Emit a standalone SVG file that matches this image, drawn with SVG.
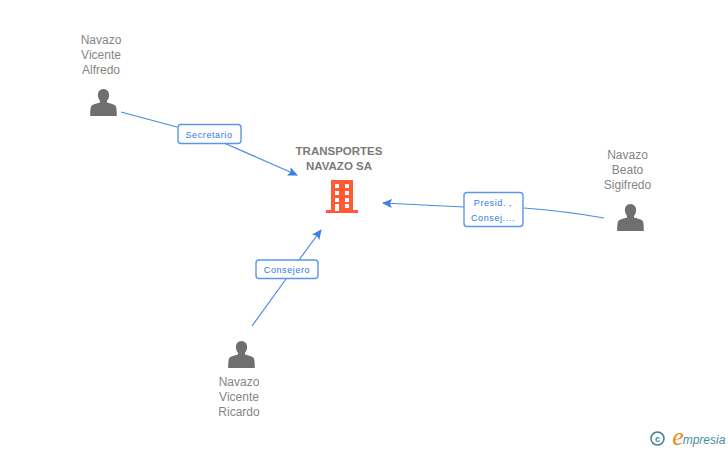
<svg xmlns="http://www.w3.org/2000/svg" width="728" height="450" viewBox="0 0 728 450">
<style>
text{font-family:"Liberation Sans",Arial,sans-serif;text-anchor:middle}
.n{font-size:12px;fill:#858585}
.t{font-size:11.500px;font-weight:bold;fill:#7a7a7a}
.l{font-size:9px;fill:#2f78e4;letter-spacing:.6px}
.c{fill:none;stroke:#4a8ae6;stroke-width:1.2}
.b{fill:#fff;stroke:#5a96ea;stroke-width:1.4}
.p{fill:#6f6f6f}
</style>
<defs>
<marker id="a" markerWidth="11" markerHeight="10" refX="9" refY="4.500" orient="auto" markerUnits="userSpaceOnUse"><path d="M0 0L10 4.500L0 9L2 4.500Z" fill="#3b7fe0"/></marker>
<path id="u" d="M0-14C-3.800-14-5.800-11-5.600-7.500C-5.400-5-4.400-3.200-3.500-2.200V-.5C-5.500 0-10 1-12 2.700C-13 3.700-13.300 8-13.300 13H13.300C13.300 8 13 3.700 12 2.700C10 1 5.500 0 3.500-.5V-2.200C4.400-3.200 5.400-5 5.600-7.500C5.800-11 3.800-14 0-14Z"/>
</defs>
<g id="connectors">
<path class="c" d="M121 112L177 127M224 143L297 175" marker-end="url(#a)"/>
<path class="c" d="M604 218Q565 211 524 208M464 207Q425 205 383 203" marker-end="url(#a)"/>
<path class="c" d="M252 326L286 279M299 260L321 230" marker-end="url(#a)"/>
</g>
<g id="edge-secretario"><rect class="b" x="178" y="124.500" width="63" height="19" rx="3"/><text class="l" x="209" y="137.500">Secretario</text></g>
<g id="edge-presid"><rect class="b" x="464" y="192.500" width="59" height="34" rx="3"/><text class="l" x="493" y="205.500">Presid. ,</text><text class="l" x="493" y="220.500">Consej....</text></g>
<g id="edge-consejero"><rect class="b" x="256" y="260" width="62" height="18.500" rx="3"/><text class="l" x="287" y="273">Consejero</text></g>
<g id="node-company">
<text class="t" x="339" y="155">TRANSPORTES</text><text class="t" x="339" y="170">NAVAZO SA</text>
<path fill="#ff5a33" fill-rule="evenodd" d="M331 180H353V210H358V213H326V210H331ZM335 184V188H339V184ZM345 184V188H349V184ZM335 191V195H339V191ZM345 191V195H349V191ZM335 198V202H339V198ZM345 198V202H349V198ZM335 204V211H339V204ZM345 204V208H349V204Z"/>
</g>
<g id="node-alfredo"><text class="n" x="101" y="44">Navazo</text><text class="n" x="101" y="59">Vicente</text><text class="n" x="101" y="74">Alfredo</text><use href="#u" class="p" x="103.500" y="103"/></g>
<g id="node-beato"><text class="n" x="627.500" y="159">Navazo</text><text class="n" x="627.500" y="174">Beato</text><text class="n" x="627.500" y="189">Sigifredo</text><use href="#u" class="p" x="630.500" y="218"/></g>
<g id="node-ricardo"><use href="#u" class="p" x="241.500" y="355"/><text class="n" x="239" y="386">Navazo</text><text class="n" x="239" y="401">Vicente</text><text class="n" x="239" y="416">Ricardo</text></g>
<g id="logo">
<circle cx="657.500" cy="438.500" r="6.500" fill="none" stroke="#3f7f96" stroke-width="1.500"/>
<text x="657.500" y="441.500" style="font-size:9px;font-weight:bold;fill:#3f7f96">c</text>
<text x="678" y="445" style="font-family:'Liberation Serif',serif;font-size:26px;font-style:italic;fill:#f08a1d">e</text>
<text x="704" y="444" style="font-size:12px;font-style:italic;fill:#3f8f9f">mpresia</text>
</g>
</svg>
